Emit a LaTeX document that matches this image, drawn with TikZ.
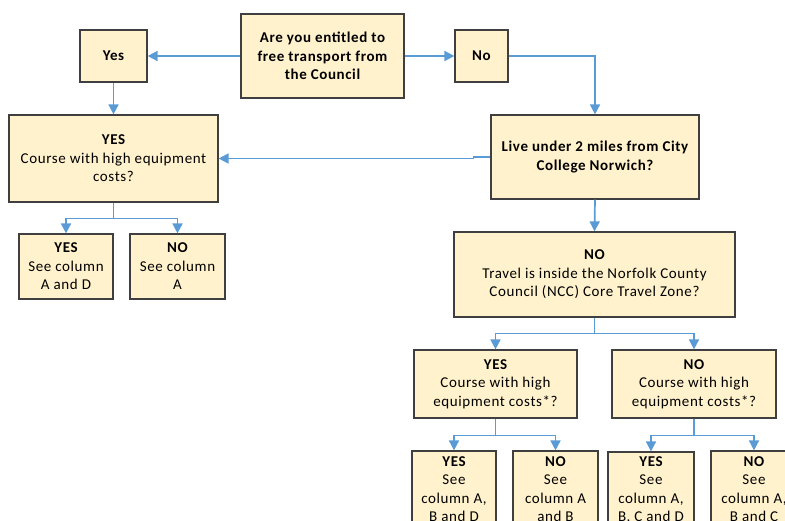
\documentclass[tikz,border=0pt]{standalone}
\usepackage{fontspec}
\setmainfont{Carlito}[LetterSpace=4]
\usetikzlibrary{arrows.meta}
\definecolor{boxfill}{HTML}{FFF2CC}
\definecolor{boxline}{HTML}{3F3F3F}
\definecolor{arrowblue}{HTML}{5B9BD5}
\tikzset{
  fbox/.style={draw=boxline, fill=boxfill, line width=1.2pt, align=center, inner sep=0pt,
    font=\fontsize{15}{18.5}\selectfont},
  conn/.style={draw=arrowblue, line width=1.7pt, -{Triangle[length=10pt,width=10pt]}},
}
\begin{document}
\begin{tikzpicture}[x=1pt,y=-1pt]
\useasboundingbox (0,0) rectangle (785,520);
\clip (0,0) rectangle (785,520);
% nodes
\node[fbox, minimum width=163, minimum height=84] (q1) at (322.5,56) {\bfseries Are you entitled to\\\bfseries free transport from\\\bfseries the Council};
\node[fbox, minimum width=67, minimum height=52] (yes1) at (113.5,56) {\bfseries Yes};
\node[fbox, minimum width=53, minimum height=52] (no1) at (481.5,56) {\bfseries No};
\node[fbox, minimum width=208, minimum height=84] (live) at (595,157) {\bfseries Live under 2 miles from City\\\bfseries College Norwich?};
\node[fbox, minimum width=209, minimum height=87] (ycourse) at (113.5,158.5) {\bfseries YES\\Course with high equipment\\costs?};
\node[fbox, minimum width=94, minimum height=65] (yA) at (66,266.5) {\bfseries YES\\See column\\A and D};
\node[fbox, minimum width=95, minimum height=65] (nA) at (177.5,266.5) {\bfseries NO\\See column\\A};
\node[fbox, minimum width=281, minimum height=85] (travel) at (594.5,274.5) {\bfseries NO\\Travel is inside the Norfolk County\\Council (NCC) Core Travel Zone?};
\node[fbox, minimum width=163, minimum height=68] (ycs) at (495.5,384) {\bfseries YES\\Course with high\\equipment costs*?};
\node[fbox, minimum width=164, minimum height=68] (ncs) at (694,384) {\bfseries NO\\Course with high\\equipment costs*?};
\node[fbox, minimum width=84, minimum height=76] (b1) at (454,489) {\bfseries YES\\See\\column A,\\B and D};
\node[fbox, minimum width=85, minimum height=76] (b2) at (555.5,489) {\bfseries NO\\See\\column A\\and B};
\node[fbox, minimum width=86, minimum height=76] (b3) at (651,490) {\bfseries YES\\See\\column A,\\B, C and D};
\node[fbox, minimum width=86, minimum height=76] (b4) at (754,489) {\bfseries NO\\See\\column A,\\B and C};
% connectors
\draw[conn] (q1.west) -- (yes1.east);
\draw[conn] (q1.east) -- (no1.west);
\draw[conn] (no1.east) -| (live.north);
\draw[conn] (yes1.south) -- (ycourse.north);
\draw[conn] (live.west) -- ++(-17,0) |- (ycourse.east);
\draw[conn] (ycourse.south) -- ++(0,16) -| (yA.north);
\draw[conn] (ycourse.south) -- ++(0,16) -| (nA.north);
\draw[conn] (live.south) -- (travel.north);
\draw[conn] (travel.south) -- ++(0,16) -| (ycs.north);
\draw[conn] (travel.south) -- ++(0,16) -| (ncs.north);
\draw[conn] (ycs.south) -- ++(0,17) -| (b1.north);
\draw[conn] (ycs.south) -- ++(0,17) -| (b2.north);
\draw[conn] (ncs.south) -- ++(0,17) -| (b3.north);
\draw[conn] (ncs.south) -- ++(0,17) -| (b4.north);
\end{tikzpicture}
\end{document}
